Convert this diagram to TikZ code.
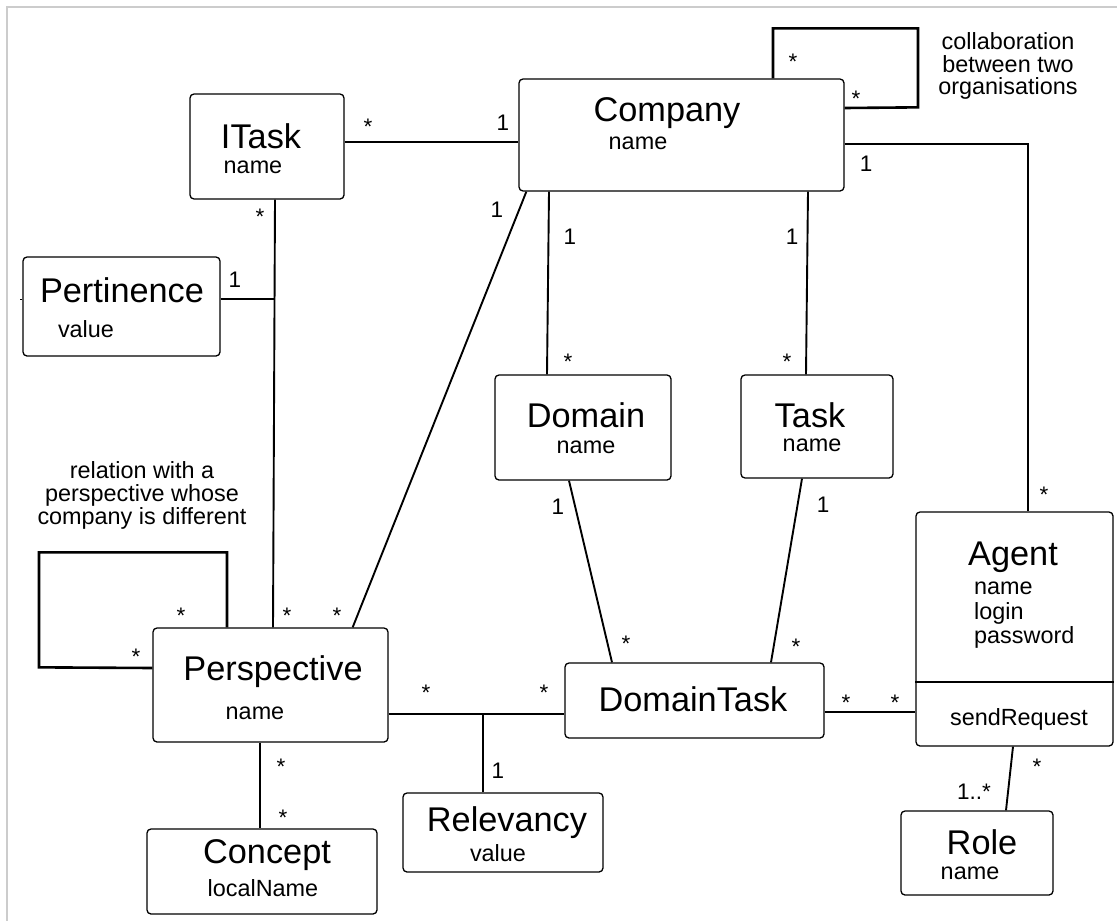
\documentclass[tikz,border=0pt]{standalone}
\usepackage{fontspec}
\setmainfont{Liberation Sans}
\usetikzlibrary{calc}
\begin{document}
\begin{tikzpicture}[x=1pt,y=-1pt,
  box/.style={draw, rounded corners=4pt, line width=1.3pt, inner sep=0pt},
  ttl/.style={font=\fontsize{34.3}{36}\selectfont, inner sep=0pt},
  attr/.style={font=\fontsize{23.4}{25}\selectfont, inner sep=0pt},
  mult/.style={font=\fontsize{22.5}{24}\selectfont, inner sep=0pt},
  star/.style={mult, yshift=-5pt},
  conn/.style={line width=1.9pt},
  selfloop/.style={line width=2.6pt},
  note/.style={font=\fontsize{23.4}{22.8}\selectfont, align=center, inner sep=0pt}]
\useasboundingbox (0,0) rectangle (1117,921);
\draw[line width=2pt, black!20] (7,921) -- (7,7) -- (1117,7);

% boxes
\node[box, minimum width=154pt, minimum height=105pt] (itask) at (267,146.5) {};
\node[box, minimum width=325pt, minimum height=112pt] (company) at (681.5,135) {};
\node[box, minimum width=197pt, minimum height=99pt] (pert) at (121.5,306.5) {};
\node[box, minimum width=176pt, minimum height=105pt] (domain) at (583,427.5) {};
\node[box, minimum width=152pt, minimum height=103pt] (task) at (817,426.5) {};
\node[box, minimum width=197pt, minimum height=234pt] (agent) at (1014.5,629) {};
\node[box, minimum width=259pt, minimum height=75pt] (dt) at (694.5,700.5) {};
\node[box, minimum width=235pt, minimum height=114pt] (persp) at (270.5,685) {};
\node[box, minimum width=200pt, minimum height=79pt] (rel) at (503,832.5) {};
\node[box, minimum width=230pt, minimum height=85pt] (concept) at (262,871.5) {};
\node[box, minimum width=152pt, minimum height=84pt] (role) at (977,853) {};
\draw[line width=1.6pt] ([yshift=-53pt]agent.west) -- ([yshift=-53pt]agent.east);

% texts
\node[ttl] (t-itask) at (261,136) {ITask};
\node[attr] (a-itask) at (253,167) {name};
\node[ttl] (t-company) at (667,113) {Company};
\node[attr] (a-company) at (638,143) {name};
\node[ttl] (t-pert) at (122,290) {Pertinence};
\node[attr] (a-pert) at (86,329) {value};
\node[ttl] (t-domain) at (586,415) {Domain};
\node[attr] (a-domain) at (586,447) {name};
\node[ttl] (t-task) at (810,415) {Task};
\node[attr] (a-task) at (812,445) {name};
\node[ttl] (t-agent) at (1013,557) {Agent};
\node[attr, anchor=west] (a-agent1) at (974,588) {name};
\node[attr, anchor=west] (a-agent2) at (974,613) {login};
\node[attr, anchor=west] (a-agent3) at (974,637) {password};
\node[attr] (o-agent) at (1019,719) {sendRequest};
\node[ttl] (t-dt) at (693,699) {DomainTask};
\node[ttl] (t-persp) at (273,672) {Perspective};
\node[attr] (a-persp) at (255,713) {name};
\node[ttl] (t-rel) at (507,823) {Relevancy};
\node[attr] (a-rel) at (498,853) {value};
\node[ttl] (t-concept) at (267,855) {Concept};
\node[attr] (a-concept) at (263,888) {localName};
\node[ttl] (t-role) at (982,842) {Role};
\node[attr] (a-role) at (970,873) {name};

% notes
\node[note] (n-collab) at (1008,66) {collaboration\\between two\\organisations};
\node[note] (n-rel) at (142,495.5) {relation with a\\perspective whose\\company is different};

% connectors
\draw[conn] ([yshift=4.5pt]itask.east) -- ([yshift=4.5pt]itask.east -| company.west);
\draw[conn, line width=2.4pt] ([yshift=-9pt]company.east) -| ([xshift=13.5pt]agent.north);
\draw[selfloop] ([xshift=91.5pt]company.north) -- ++(0,-50) -- ++(145,0) -- ++(0,79) -- ([yshift=27pt]company.east);
\draw[conn] ([xshift=-132.5pt]company.south) -- ([xshift=-36pt]domain.north);
\draw[conn] ([xshift=126.5pt]company.south) -- ([xshift=-11pt]task.north);
\draw[conn] ([xshift=8pt]company.south west) -- ([xshift=-36pt]persp.north east);
\coordinate (itl) at ([xshift=8pt]itask.south);
\draw[conn] (itl) -- ([xshift=2.5pt]persp.north);
\draw[conn] ([yshift=7.5pt]pert.east) -- ([yshift=7.5pt]pert.east -| itl);
\draw[line width=1pt] ([yshift=7.5pt]pert.west) -- ++(-2,0);
\draw[selfloop] ([xshift=-43.5pt]persp.north) -- ++(0,-75) -- ++(-188,0) -- ++(0,115) -- ([yshift=17pt]persp.west);
\coordinate (pl) at ([yshift=-29pt]persp.east);
\draw[conn] (pl) -- (pl -| dt.west);
\draw[conn] ([xshift=-20pt]rel.north) -- ([xshift=-20pt]rel.north |- pl);
\draw[conn] ([xshift=-10.5pt]persp.south) -- ([xshift=-2pt]concept.north);
\draw[conn] ([xshift=-14pt]domain.south) -- ([xshift=-82.5pt]dt.north);
\draw[conn] ([xshift=-15pt]task.south) -- ([xshift=76.5pt]dt.north);
\coordinate (al) at ([yshift=-11.5pt]dt.east);
\draw[conn] (al) -- (al -| agent.west);
\draw[conn] ([xshift=-1.5pt]agent.south) -- ([xshift=29pt]role.north);

% multiplicities
\node[star] (m1) at (368,122) {*};
\node[mult] (m2) at (503,123) {1};
\node[star] (m3) at (260,212) {*};
\node[mult] (m4) at (235,280) {1};
\node[mult] (m5) at (497,210) {1};
\node[star] (m6) at (793,57) {*};
\node[star] (m7) at (856,94) {*};
\node[mult] (m8) at (866,164) {1};
\node[star] (m9) at (1044,490) {*};
\node[mult] (m10) at (570,237) {1};
\node[star] (m11) at (568,357) {*};
\node[mult] (m12) at (792,237) {1};
\node[star] (m13) at (787,357) {*};
\node[mult] (m14) at (558,507) {1};
\node[star] (m15) at (626,639) {*};
\node[mult] (m16) at (823,505) {1};
\node[star] (m17) at (796,642) {*};
\node[star] (m18) at (846,698) {*};
\node[star] (m19) at (895,698) {*};
\node[star] (m20) at (426,688) {*};
\node[star] (m21) at (544,688) {*};
\node[mult] (m22) at (498,771) {1};
\node[star] (m23) at (181,611) {*};
\node[star] (m24) at (136,652) {*};
\node[star] (m25) at (287,611) {*};
\node[star] (m26) at (337,611) {*};
\node[star] (m27) at (281,762) {*};
\node[star] (m28) at (283,813) {*};
\node[star] (m29) at (1037,762) {*};
\node[mult] (m30) at (974,792) {1..*};
\end{tikzpicture}
\end{document}
